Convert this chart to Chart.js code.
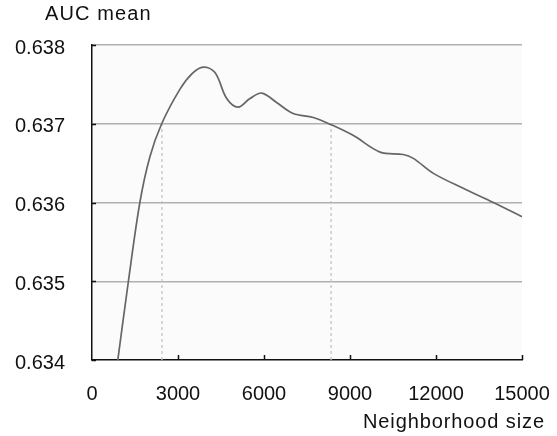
<!DOCTYPE html>
<html>
<head>
<meta charset="utf-8">
<script src="https://cdn.jsdelivr.net/npm/chart.js@4.4.1/dist/chart.umd.min.js"></script>
<style>
  html, body { margin: 0; padding: 0; background: #fff; }
  #wrap { width: 557px; height: 436px; }
</style>
</head>
<body>
<div id="wrap"><canvas id="aucChart" width="557" height="436"></canvas></div>
<script>
// --- data ---
const sizes = [900, 1270, 1670, 2020, 2430, 3070, 3500, 3880, 4290, 4700, 5100, 5510, 5920, 6440, 7020, 7720, 8330, 9120, 10050, 10860, 11210, 11910, 12950, 14000, 15000];
const aucMean = [0.6340, 0.6350, 0.6360, 0.63658, 0.6370, 0.63744, 0.63764, 0.63772, 0.63765, 0.63732, 0.63721, 0.63732, 0.63739, 0.63727, 0.63713, 0.63708, 0.63699, 0.63685, 0.63664, 0.63661, 0.63656, 0.63637, 0.63618, 0.63600, 0.63582];

// dashed drop lines (x position, value on curve)
const markerX = [2440, 8340];
const markerY = [0.6370, 0.63699];

const yTicks = [0.634, 0.635, 0.636, 0.637, 0.638];
const xTicks = [0, 3000, 6000, 9000, 12000, 15000];

const FONT = "'Liberation Sans', Arial, Helvetica, sans-serif";

const curve = sizes.map((s, i) => ({ x: s, y: aucMean[i] }));
const markerSets = markerX.map((mx, i) => ({
    data: [{ x: mx, y: yTicks[0] }, { x: mx, y: markerY[i] }],
    borderColor: '#c4c4c4',
    borderWidth: 1.3,
    borderDash: [3, 3],
    pointRadius: 0,
    order: 2
}));

// plot background, inward ticks and the two axis titles
const decorations = {
    id: 'decorations',
    beforeDraw(chart) {
        const { ctx, chartArea: a } = chart;
        ctx.save();
        ctx.fillStyle = '#fbfbfb';
        ctx.fillRect(a.left, a.top, a.right - a.left, a.bottom - a.top);
        ctx.restore();
    },
    afterDraw(chart) {
        const { ctx, chartArea: a, scales } = chart;
        ctx.save();
        ctx.strokeStyle = '#111';
        ctx.lineWidth = 1.5;
        ctx.beginPath();
        yTicks.forEach(v => {
            const py = Math.round(scales.y.getPixelForValue(v)) + 0.5;
            ctx.moveTo(a.left, py);
            ctx.lineTo(a.left + 4, py);
        });
        xTicks.slice(1).forEach(v => {
            const px = Math.round(scales.x.getPixelForValue(v)) + 0.5;
            ctx.moveTo(px, a.bottom);
            ctx.lineTo(px, a.bottom - 5);
        });
        ctx.stroke();

        ctx.fillStyle = '#111';
        ctx.font = '20px ' + FONT;
        ctx.textBaseline = 'middle';
        ctx.letterSpacing = '1.1px';
        ctx.textAlign = 'left';
        ctx.fillText('AUC mean', 45, 14);
        ctx.letterSpacing = '0.9px';
        ctx.textAlign = 'right';
        ctx.fillText('Neighborhood size', 545, 422);
        ctx.restore();
    }
};

new Chart(document.getElementById('aucChart'), {
    type: 'line',
    data: {
        datasets: [{
            data: curve,
            borderColor: '#666',
            borderWidth: 1.7,
            pointRadius: 0,
            tension: 0.35,
            order: 1
        }, ...markerSets]
    },
    options: {
        responsive: false,
        animation: false,
        layout: { padding: { top: 45, right: 35, left: 0, bottom: 0 } },
        plugins: { legend: { display: false }, tooltip: { enabled: false } },
        scales: {
            x: {
                type: 'linear',
                min: 0,
                max: 15000,
                afterFit(scale) {
                    scale.height = 76;
                    scale.paddingLeft = 0;
                    scale.paddingRight = 0;
                },
                afterBuildTicks(scale) { scale.ticks = xTicks.map(v => ({ value: v })); },
                grid: { display: false, drawTicks: false },
                border: { display: true, color: '#111', width: 1.5 },
                ticks: {
                    padding: 22,
                    color: '#111',
                    font: { family: FONT, size: 20 },
                    maxRotation: 0,
                    callback: v => String(v)
                }
            },
            y: {
                min: 0.634,
                max: 0.638,
                afterFit(scale) {
                    scale.width = 92;
                    scale.paddingTop = 0;
                    scale.paddingBottom = 0;
                },
                afterBuildTicks(scale) { scale.ticks = yTicks.map(v => ({ value: v })); },
                grid: {
                    drawTicks: false,
                    lineWidth: 1.5,
                    color: c => c.index === 0 ? 'rgba(0,0,0,0)' : '#b0b0b0'
                },
                border: { display: true, color: '#111', width: 1.5 },
                ticks: {
                    padding: 27,
                    labelOffset: 3,
                    color: '#111',
                    font: { family: FONT, size: 20 },
                    callback: v => v.toFixed(3)
                }
            }
        }
    },
    plugins: [decorations]
});
</script>
</body>
</html>
